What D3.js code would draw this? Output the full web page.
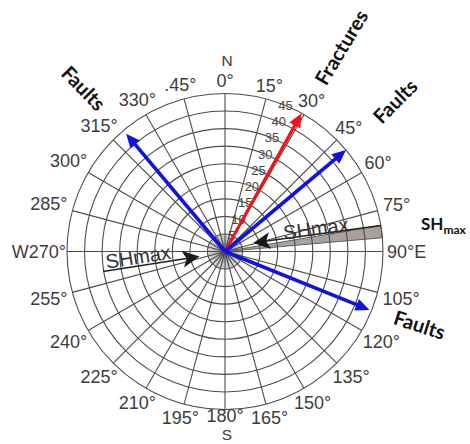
<!DOCTYPE html>
<html>
<head>
<meta charset="utf-8">
<script src="https://cdn.jsdelivr.net/npm/d3@7"></script>
<style>
  html, body { margin: 0; padding: 0; background: #fff; }
  svg { display: block; }
</style>
</head>
<body>
<svg id="chart" width="470" height="444"></svg>
<script>
// Rose-diagram grid: ring values (count) and azimuth spokes (degrees)
const ringValues = [5, 10, 15, 20, 25, 30, 35, 40, 45];
const azimuthTicks = [0, 15, 30, 45, 60, 75, 90, 105, 120, 135, 150, 165,
                      180, 195, 210, 225, 240, 255, 270, 285, 300, 315, 330, 345];
const azimuthLabels = ["0°", "15°", "30°", "45°", "60°", "75°", "90°E", "105°", "120°",
                       "135°", "150°", "165°", "180°", "195°", "210°", "225°", "240°",
                       "255°", "W270°", "285°", "300°", "315°", "330°", ".45°"];

// Dominant trends: azimuth (deg) and magnitude (ring units)
const trendNames = ["Fractures", "Faults", "Faults", "Faults"];
const trendAzimuths = [29, 50, 320, 112];
const trendLengths = [45, 45, 43.8, 44.4];
const trendColors = ["#f01414", "#1212e0", "#1212e0", "#1212e0"];

// Maximum horizontal stress: azimuth sector of the shaded wedge
const shmaxSector = [80.5, 85];
const shmaxAzimuth = 261;

// ---- layout ----
const svg = d3.select("#chart");
const cx = 225, cy = 251.5, R = 158;
const rScale = d3.scaleLinear().domain([0, 45]).range([0, R]);
const aScale = d3.scaleLinear().domain([0, 360]).range([0, 2 * Math.PI]);
const pt = (az, v) => {
  const a = aScale(az), r = rScale(v);
  return [cx + r * Math.sin(a), cy - r * Math.cos(a)];
};
const ptPx = (az, r) => {
  const a = aScale(az);
  return [cx + r * Math.sin(a), cy - r * Math.cos(a)];
};

const gridColor = "#4d4d4d";
const labelColor = "#3d3d3d";
const g = svg.append("g");

// shaded SHmax wedge (under the grid lines)
const wedge = [pt(0, 0)];
d3.range(shmaxSector[0], shmaxSector[1] + 0.01, 0.5).forEach(a => wedge.push(pt(a, 45)));
g.append("path")
  .attr("d", d3.line()(wedge) + "Z")
  .attr("fill", "#a8a19e")
  .attr("stroke", "#555")
  .attr("stroke-width", 0.9);

// rings
g.selectAll("circle.ring").data(ringValues).join("circle")
  .attr("class", "ring")
  .attr("cx", cx).attr("cy", cy)
  .attr("r", d => rScale(d))
  .attr("fill", "none")
  .attr("stroke", gridColor)
  .attr("stroke-width", 1.1);

// fine inner spokes
g.selectAll("line.fine").data(d3.range(0, 360, 5)).join("line")
  .attr("class", "fine")
  .attr("x1", cx).attr("y1", cy)
  .attr("x2", d => pt(d, ringValues[0])[0])
  .attr("y2", d => pt(d, ringValues[0])[1])
  .attr("stroke", "#666")
  .attr("stroke-width", 0.45);

// main spokes
g.selectAll("line.spoke").data(azimuthTicks).join("line")
  .attr("class", "spoke")
  .attr("x1", cx).attr("y1", cy)
  .attr("x2", d => pt(d, 45)[0])
  .attr("y2", d => pt(d, 45)[1])
  .attr("stroke", gridColor)
  .attr("stroke-width", 1.1);

// ring value labels along the 22.5° bearing
g.selectAll("text.rv").data(ringValues).join("text")
  .attr("class", "rv")
  .attr("x", d => pt(22.5, d)[0])
  .attr("y", d => pt(22.5, d)[1])
  .attr("text-anchor", "middle")
  .attr("dominant-baseline", "central")
  .attr("font-family", "Liberation Sans, Arial, sans-serif")
  .attr("font-size", 13)
  .attr("fill", "#4a4a4a")
  .text(d => d);

// azimuth labels
const tickFont = "Liberation Sans, Arial, sans-serif";
azimuthTicks.forEach((az, i) => {
  const txt = azimuthLabels[i];
  let x, y, anchor = "middle";
  if (az === 90) {
    [x, y] = ptPx(az, R + 4); anchor = "start";
  } else if (az === 270) {
    [x, y] = ptPx(az, R + 1); anchor = "end";
  } else {
    const hw = txt.length * 4.7, hh = 7;
    const a = aScale(az);
    let off = 6 + Math.sqrt((hw * Math.sin(a)) ** 2 + (hh * Math.cos(a)) ** 2);
    if (az === 180) off -= 7;
    [x, y] = ptPx(az, R + off);
  }
  g.append("text")
    .attr("x", x).attr("y", y)
    .attr("text-anchor", anchor)
    .attr("dominant-baseline", "central")
    .attr("font-family", tickFont)
    .attr("font-size", 18)
    .attr("fill", labelColor)
    .text(txt);
});
// cardinal letters
[["N", 0, 60], ["S", 180, 434]].forEach(([t, az, y]) => {
  const [x] = ptPx(az, R);
  g.append("text")
    .attr("x", x + 2).attr("y", y)
    .attr("text-anchor", "middle")
    .attr("dominant-baseline", "central")
    .attr("font-family", tickFont)
    .attr("font-size", 15.5)
    .attr("fill", labelColor)
    .text(t);
});

// arrowhead path: tip, base along the shaft direction
function headPath(tip, from, len, hw, notch) {
  const dx = tip[0] - from[0], dy = tip[1] - from[1];
  const L = Math.hypot(dx, dy), ux = dx / L, uy = dy / L;
  const bx = tip[0] - ux * len, by = tip[1] - uy * len;
  const nx = -uy, ny = ux;
  const nbx = tip[0] - ux * (len - notch), nby = tip[1] - uy * (len - notch);
  return `M${tip[0]},${tip[1]}L${bx + nx * hw},${by + ny * hw}L${nbx},${nby}L${bx - nx * hw},${by - ny * hw}Z`;
}
function shorten(tip, from, d) {
  const dx = tip[0] - from[0], dy = tip[1] - from[1];
  const L = Math.hypot(dx, dy);
  return [tip[0] - dx / L * d, tip[1] - dy / L * d];
}

// SHmax arrows (black, pointing inward)
const shArrows = [
  { from: pt(shmaxSector[0], 45), to: pt(73, 8.4) },
  { from: pt(shmaxAzimuth - 0.3, 35.2), to: pt(shmaxAzimuth - 2, 7.4) }
];
shArrows.forEach(s => {
  const e = shorten(s.to, s.from, 10);
  g.append("line")
    .attr("x1", s.from[0]).attr("y1", s.from[1])
    .attr("x2", e[0]).attr("y2", e[1])
    .attr("stroke", "#222").attr("stroke-width", 1.6);
  g.append("path")
    .attr("d", headPath(s.to, s.from, 17, 8.5, 4))
    .attr("fill", "#1a1a1a");
});

// SHmax annotations on the grid
[["SHmax", 75.8, 26.7, -7.5], ["SHmax", 266.5, 24.8, -9]].forEach(([t, az, v, rot]) => {
  const [x, y] = pt(az, v);
  g.append("text")
    .attr("transform", `translate(${x},${y}) rotate(${rot})`)
    .attr("text-anchor", "middle")
    .attr("dominant-baseline", "central")
    .attr("font-family", tickFont)
    .attr("font-size", 20)
    .attr("fill", "#333")
    .text(t);
});

// trend arrows
trendAzimuths.forEach((az, i) => {
  const tip = pt(az, trendLengths[i]);
  const base = pt(az, 0);
  const end = shorten(tip, base, 10);
  g.append("line")
    .attr("x1", base[0]).attr("y1", base[1])
    .attr("x2", end[0]).attr("y2", end[1])
    .attr("stroke", trendColors[i])
    .attr("stroke-width", i === 0 ? 3.2 : 3.6);
  g.append("path")
    .attr("d", headPath(tip, base, 14, 6.2, 0))
    .attr("fill", trendColors[i]);
});

// trend names placed beyond each arrow
const nameLayout = [
  { az: 29.5, r: 235, rot: -59 },
  { az: 48.4, r: 227, rot: -45 },
  { az: 319.3, r: 216, rot: 46 },
  { az: 110.5, r: 208, rot: 18 }
];
trendNames.forEach((t, i) => {
  const [x, y] = ptPx(nameLayout[i].az, nameLayout[i].r);
  g.append("text")
    .attr("transform", `translate(${x},${y}) rotate(${nameLayout[i].rot})`)
    .attr("text-anchor", "middle")
    .attr("dominant-baseline", "central")
    .attr("font-family", "Lato, Open Sans, sans-serif")
    .attr("font-weight", "bold")
    .attr("font-size", 20)
    .attr("fill", "#111")
    .text(t);
});

// SHmax legend tag
const tag = g.append("text")
  .attr("x", 421).attr("y", 230)
  .attr("font-family", "Lato, Open Sans, sans-serif")
  .attr("font-weight", "bold")
  .attr("font-size", 17)
  .attr("fill", "#111");
tag.append("tspan").text("SH");
tag.append("tspan").attr("font-size", 12).attr("dy", 4).text("max");
</script>
</body>
</html>
